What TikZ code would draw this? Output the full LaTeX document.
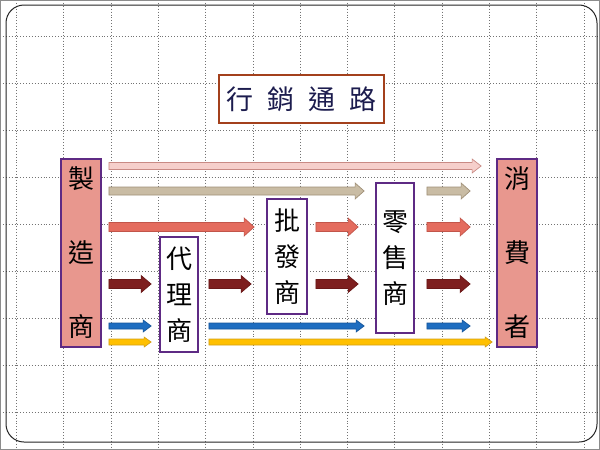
\documentclass[tikz,border=0pt]{standalone}
\usepackage{fontspec}
\newfontfamily\cjk{Noto Sans CJK TC}
\usetikzlibrary{calc}
\definecolor{titleframe}{HTML}{A3401C}
\definecolor{titleink}{HTML}{1C1C4E}
\definecolor{memberframe}{HTML}{5E2A84}
\definecolor{endfill}{HTML}{E8978E}
\begin{document}
\begin{tikzpicture}[x=1pt, y=-1pt, every node/.style={align=center, inner sep=0pt}]
\tikzset{
  gridline/.style={dotted, line width=0.9pt, black!55},
  titlebox/.style={draw=titleframe, line width=1.8pt, fill=white, minimum width=165pt, minimum height=48pt, text=titleink, font=\cjk\fontsize{27}{30}\selectfont},
  member/.style={draw=memberframe, line width=1.8pt, fill=white, font=\cjk\fontsize{26}{36}\selectfont},
  endpoint/.style={member, fill=endfill, minimum width=40pt, minimum height=188pt, font=\cjk\fontsize{26}{74}\selectfont},
  gapin/.store in=\arrgapin, gapout/.store in=\arrgapout,
  shaft/.store in=\arrshaft, headw/.store in=\arrheadw, headl/.store in=\arrheadl,
  gapin=7, gapout=10, shaft=4, headw=8, headl=10,
  blockarrow/.style={line width=0.7pt, line join=miter, to path={
    let \p1=(\tikztostart), \p2=(\tikztotarget) in
    ({\x1+\arrgapin pt},{\y1+\arrshaft pt}) -- ({\x2-\arrgapout pt-\arrheadl pt},{\y1+\arrshaft pt})
    -- ({\x2-\arrgapout pt-\arrheadl pt},{\y1+\arrheadw pt}) -- ({\x2-\arrgapout pt},\y1)
    -- ({\x2-\arrgapout pt-\arrheadl pt},{\y1-\arrheadw pt}) -- ({\x2-\arrgapout pt-\arrheadl pt},{\y1-\arrshaft pt})
    -- ({\x1+\arrgapin pt},{\y1-\arrshaft pt}) -- cycle}},
  chanpink/.style={blockarrow, fill={rgb,255:red,246;green,207;blue,203}, draw={rgb,255:red,201;green,138;blue,132}, shaft=3.5, headw=7, headl=9},
  chantan/.style={blockarrow, fill={rgb,255:red,201;green,188;blue,164}, draw={rgb,255:red,160;green,144;blue,120}, shaft=4, headw=8, headl=9},
  chansalmon/.style={blockarrow, fill={rgb,255:red,228;green,108;blue,94}, draw={rgb,255:red,194;green,85;blue,74}, shaft=4.5, headw=9, headl=10},
  chandark/.style={blockarrow, fill={rgb,255:red,126;green,31;blue,31}, draw={rgb,255:red,106;green,24;blue,24}, shaft=4.5, headw=8.5, headl=10},
  chanblue/.style={blockarrow, fill={rgb,255:red,30;green,109;blue,192}, draw={rgb,255:red,23;green,86;blue,154}, shaft=3, headw=6, headl=8},
  changold/.style={blockarrow, fill={rgb,255:red,255;green,192;blue,0}, draw={rgb,255:red,212;green,160;blue,23}, shaft=3, headw=5, headl=7}
}
\useasboundingbox (0,0) rectangle (600,450);
\fill[white] (0,0) rectangle (600,450);

% dotted paper grid
\foreach \gx in {0,...,12}
  \draw[gridline] ({16.5+47.3*\gx},0) -- ({16.5+47.3*\gx},450);
\foreach \gy in {0,...,8}
  \draw[gridline] (0,{36+47*\gy}) -- (600,{36+47*\gy});

\draw[black!45, line width=2pt] (0,0) rectangle (600,450);
\draw[black!85, line width=1pt, rounded corners=18pt] (6,5) rectangle (597,442);

\node[titlebox] (title) at (301.5,99) {行\hspace{14pt}銷\hspace{14pt}通\hspace{14pt}路};

\node[endpoint] (maker) at (81,253) {製\\造\\商};
\node[member, minimum width=38pt, minimum height=115pt] (agent) at (179,294.5) {代\\理\\商};
\node[member, minimum width=40pt, minimum height=115pt] (wholesale) at (287,256.5) {批\\發\\商};
\node[member, minimum width=38pt, minimum height=150pt] (retail) at (395,258) {零\\售\\商};
\node[endpoint] (consumer) at (517,253) {消\\費\\者};

\coordinate (lane1) at (0,166);
\coordinate (lane2) at (0,191);
\coordinate (lane3) at (0,227);
\coordinate (lane4) at (0,284);
\coordinate (lane5) at (0,326);
\coordinate (lane6) at (0,342);

\draw[chanpink, gapout=15] (maker.east |- lane1) to (consumer.west |- lane1);

\draw[chantan, gapout=11] (maker.east |- lane2) to (retail.west |- lane2);
\draw[chantan, gapin=12, gapout=26] (retail.east |- lane2) to (consumer.west |- lane2);

\draw[chansalmon, gapout=12] (maker.east |- lane3) to (wholesale.west |- lane3);
\draw[chansalmon, gapin=8, gapout=17] (wholesale.east |- lane3) to (retail.west |- lane3);
\draw[chansalmon, gapin=12, gapout=26] (retail.east |- lane3) to (consumer.west |- lane3);

\draw[chandark, gapout=8] (maker.east |- lane4) to (agent.west |- lane4);
\draw[chandark, gapin=10, gapout=15] (agent.east |- lane4) to (wholesale.west |- lane4);
\draw[chandark, gapin=8, gapout=17] (wholesale.east |- lane4) to (retail.west |- lane4);
\draw[chandark, gapin=12, gapout=26] (retail.east |- lane4) to (consumer.west |- lane4);

\draw[chanblue, gapout=8] (maker.east |- lane5) to (agent.west |- lane5);
\draw[chanblue, gapin=10, gapout=11] (agent.east |- lane5) to (retail.west |- lane5);
\draw[chanblue, gapin=12, gapout=26] (retail.east |- lane5) to (consumer.west |- lane5);

\draw[changold, gapout=8] (maker.east |- lane6) to (agent.west |- lane6);
\draw[changold, gapin=10, gapout=4] (agent.east |- lane6) to (consumer.west |- lane6);
\end{tikzpicture}
\end{document}
